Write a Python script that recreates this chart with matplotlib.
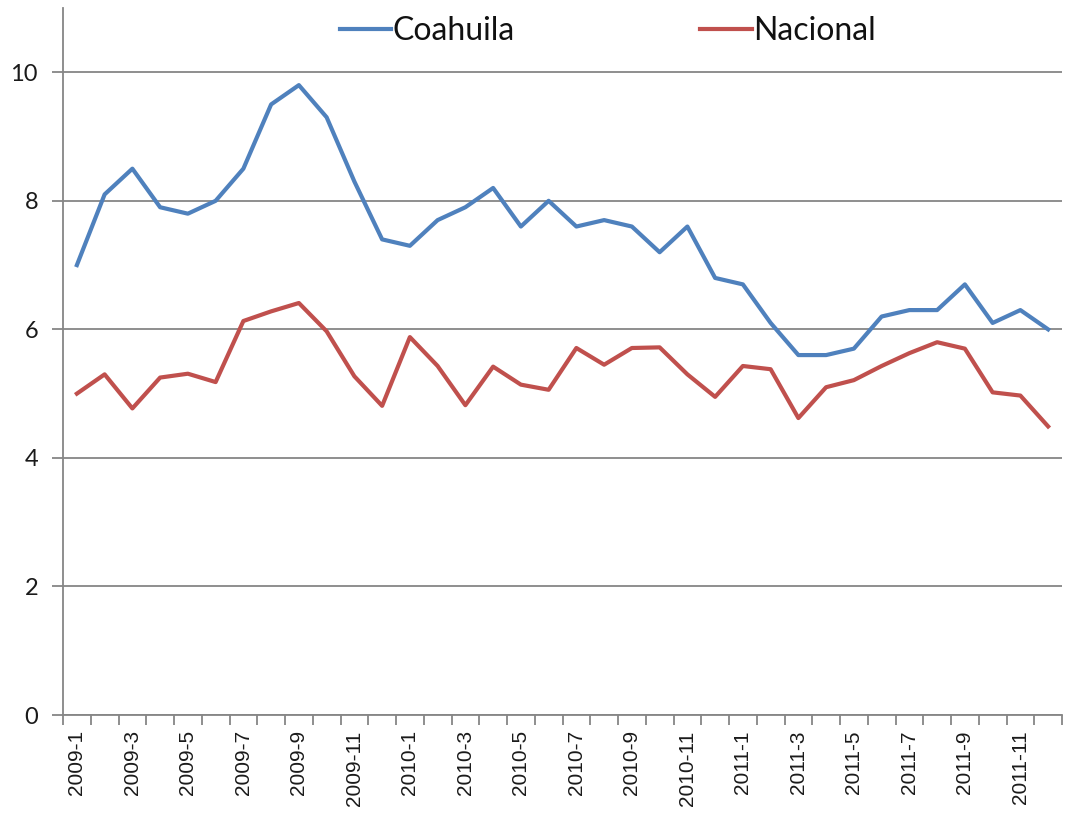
import numpy as np
import matplotlib
matplotlib.use("Agg")
import matplotlib.pyplot as plt

# monthly series, 2009-1 .. 2011-12
months = [f"{y}-{m}" for y in (2009, 2010, 2011) for m in range(1, 13)]
coahuila = [7.0, 8.1, 8.5, 7.9, 7.8, 8.0, 8.5, 9.5, 9.8, 9.3, 8.3, 7.4,
            7.3, 7.7, 7.9, 8.2, 7.6, 8.0, 7.6, 7.7, 7.6, 7.2, 7.6, 6.8,
            6.7, 6.1, 5.6, 5.6, 5.7, 6.2, 6.3, 6.3, 6.7, 6.1, 6.3, 6.0]
nacional = [5.0, 5.3, 4.77, 5.25, 5.31, 5.18, 6.13, 6.28, 6.41, 5.97, 5.27, 4.81,
            5.88, 5.43, 4.82, 5.42, 5.14, 5.06, 5.71, 5.45, 5.71, 5.72, 5.3, 4.95,
            5.43, 5.38, 4.62, 5.1, 5.21, 5.43, 5.63, 5.8, 5.7, 5.02, 4.97, 4.49]
yticks = [0, 2, 4, 6, 8, 10]

GRID = "#868686"
x = np.arange(len(months))

fig = plt.figure(figsize=(10.66, 8.27), dpi=100)
ax = fig.add_axes([63/1066, 1-715/827, (1062-63)/1066, (715-8)/827])

ax.plot(x, coahuila, color="#4F81BD", lw=3.0, label="Coahuila", solid_joinstyle="round")
ax.plot(x, nacional, color="#C0504D", lw=3.0, label="Nacional", solid_joinstyle="round")

ax.set_xlim(-0.5, len(months) - 0.5)
ax.set_ylim(0, 11)

# y axis: gridlines at the ticks
ax.set_yticks(yticks)
ax.set_yticklabels([str(v) for v in yticks], family="Lato", fontsize=17, color="#1a1a1a")
ax.yaxis.grid(True, color=GRID, lw=1.3)
ax.set_axisbelow(True)
ax.tick_params(axis="y", length=8, width=1.3, color=GRID, pad=10)

# x axis: tick marks between months, labels on every other month
ax.set_xticks(np.arange(-0.5, len(months), 1.0))
ax.set_xticklabels([])
ax.tick_params(axis="x", which="major", length=7, width=1.3, color=GRID)
ax.set_xticks(x[::2], minor=True)
ax.set_xticklabels(months[::2], minor=True, rotation=90,
                   family="Liberation Sans", fontsize=15, color="#1a1a1a")
ax.tick_params(axis="x", which="minor", length=0, pad=11)

for s in ("top", "right"):
    ax.spines[s].set_visible(False)
for s in ("left", "bottom"):
    ax.spines[s].set_color(GRID)
    ax.spines[s].set_linewidth(1.3)

fig.legend(loc="upper center", bbox_to_anchor=(608/1066, 1.015), ncol=2,
           frameon=False, prop={"family": "Lato", "size": 23},
           labelcolor="#111111", handlelength=1.6, handletextpad=0.05,
           columnspacing=5.8)

fig.savefig("out.png", dpi=100)
